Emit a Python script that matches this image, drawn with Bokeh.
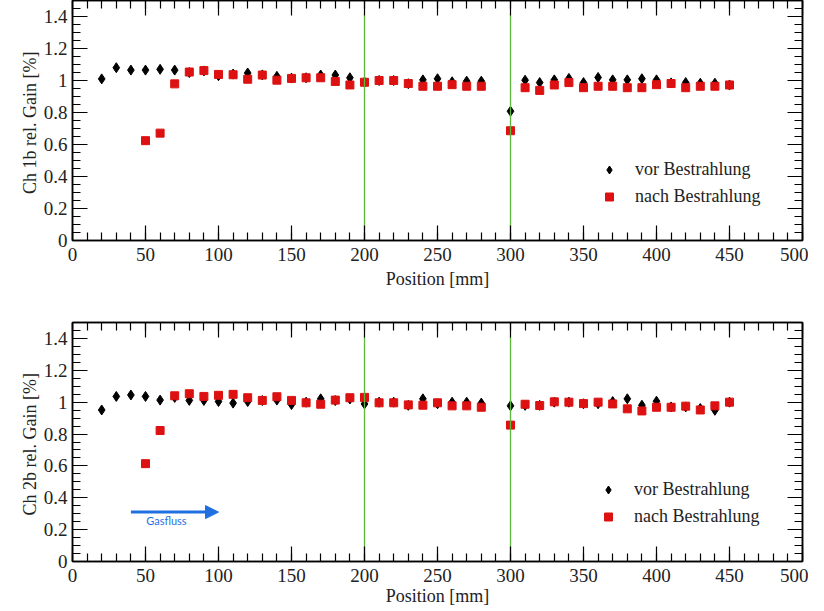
import numpy as np
from bokeh.plotting import figure
from bokeh.layouts import column
from bokeh.models import (Range1d, FixedTicker, LinearAxis, Legend, LegendItem,
                          Arrow, NormalHead, Label, CustomJSTickFormatter)
from bokeh.embed import file_html
from bokeh.resources import INLINE

# ---------------- data ----------------
pos_vor = [20, 30, 40, 50, 60, 70, 80, 90, 100, 110, 120, 130, 140, 150, 160, 170, 180, 190,
           200, 210, 220, 230, 240, 250, 260, 270, 280, 300, 310, 320, 330, 340, 350, 360,
           370, 380, 390, 400, 410, 420, 430, 440, 450]
pos_nach = [50, 60, 70, 80, 90, 100, 110, 120, 130, 140, 150, 160, 170, 180, 190,
            200, 210, 220, 230, 240, 250, 260, 270, 280, 300, 310, 320, 330, 340, 350, 360,
            370, 380, 390, 400, 410, 420, 430, 440, 450]

ch1_vor = [1.01, 1.08, 1.065, 1.065, 1.07, 1.065, 1.05, 1.06, 1.03, 1.04, 1.047, 1.035, 1.026,
           1.015, 1.017, 1.034, 1.034, 1.017, 0.99, 1.0, 1.0, 0.98, 1.004, 1.011, 0.992, 0.996,
           0.996, 0.808, 1.002, 0.987, 1.004, 1.013, 0.987, 1.019, 1.004, 1.004, 1.011, 1.004,
           0.985, 0.987, 0.983, 0.983, 0.972]
ch1_nach = [0.624, 0.671, 0.979, 1.053, 1.062, 1.038, 1.036, 1.008, 1.034, 1.002, 1.013, 1.017,
            1.017, 0.994, 0.972, 0.989, 1.0, 1.0, 0.981, 0.964, 0.964, 0.974, 0.964, 0.964,
            0.686, 0.955, 0.938, 0.972, 0.987, 0.955, 0.964, 0.964, 0.955, 0.955, 0.974, 0.981,
            0.955, 0.964, 0.964, 0.972]

ch2_vor = [0.951, 1.036, 1.045, 1.036, 1.013, 1.03, 1.011, 1.011, 1.004, 0.994, 1.004, 1.01,
           1.013, 0.985, 1.0, 1.021, 1.01, 1.02, 0.989, 1.0, 1.0, 0.98, 1.021, 0.99, 1.0, 1.0,
           0.994, 0.977, 0.98, 0.98, 1.0, 1.0, 0.99, 0.99, 1.004, 1.021, 0.981, 1.006, 0.97,
           0.97, 0.96, 0.949, 1.0]
ch2_nach = [0.614, 0.822, 1.04, 1.053, 1.036, 1.043, 1.049, 1.028, 1.011, 1.034, 1.011, 0.996,
            0.987, 1.013, 1.028, 1.03, 0.996, 0.996, 0.983, 0.981, 0.996, 0.977, 0.977, 0.968,
            0.856, 0.987, 0.979, 1.002, 1.0, 0.991, 1.0, 0.989, 0.958, 0.945, 0.968, 0.968,
            0.975, 0.951, 0.977, 1.0]

boundaries = [200, 300]
boundary_top = 1.41
x_major = [0, 50, 100, 150, 200, 250, 300, 350, 400, 450, 500]
y_major = [0, 0.2, 0.4, 0.6, 0.8, 1.0, 1.2, 1.4]
gas_arrow_x = [40, 100]
gas_arrow_y = 0.31
gas_label_x = 50.5
gas_label_y = 0.255

FONT = "Liberation Serif"
RED = "#dd1111"
GREEN = "#5cb83a"
BLUE = "#1f6fe0"


def style_axis(ax, labels=True):
    ax.axis_line_color = "black"
    ax.axis_line_width = 1.5
    ax.major_tick_in = 15
    ax.major_tick_out = 0
    ax.minor_tick_in = 8
    ax.minor_tick_out = 0
    ax.major_tick_line_color = "black"
    ax.minor_tick_line_color = "black"
    ax.major_tick_line_width = 1.2
    ax.minor_tick_line_width = 1.2
    if labels:
        ax.major_label_text_font = FONT
        ax.major_label_text_font_size = "19px"
        ax.major_label_text_color = "#222222"
        ax.axis_label_text_font = FONT
        ax.axis_label_text_font_size = "18px"
        ax.axis_label_text_font_style = "normal"
        ax.axis_label_text_color = "#222222"
    else:
        ax.major_label_text_color = None
        ax.major_label_text_font_size = "0px"
        ax.major_label_standoff = 0


def make_panel(vor_y, nach_y, ylabel, b_top, fh, lab_standoff, legend_loc, arrow):
    p = figure(frame_width=730, frame_height=fh,
               x_range=Range1d(0, 500), y_range=Range1d(0, 1.5),
               output_backend="svg", toolbar_location=None,
               min_border_left=72, min_border_right=6,
               min_border_top=b_top, min_border_bottom=20,
               x_axis_label="Position [mm]", y_axis_label=ylabel)
    p.grid.visible = False
    p.outline_line_color = "black"
    p.outline_line_width = 1.5
    p.background_fill_color = "white"
    p.border_fill_color = "white"

    xt = FixedTicker(ticks=x_major, minor_ticks=list(range(0, 501, 10)))
    yt = FixedTicker(ticks=y_major, minor_ticks=[round(v, 2) for v in np.arange(0, 1.5001, 0.05)])
    yfmt = CustomJSTickFormatter(code="return (Math.round(tick*10)/10).toString();")

    xa = p.xaxis[0]
    xa.ticker = xt
    style_axis(xa)
    xa.major_label_standoff = 7
    xa.axis_label_standoff = lab_standoff
    ya = p.yaxis[0]
    ya.ticker = yt
    ya.formatter = yfmt
    style_axis(ya)
    ya.major_label_standoff = 5
    ya.axis_label_standoff = 1

    top = LinearAxis(ticker=xt)
    style_axis(top, labels=False)
    p.add_layout(top, "above")
    right = LinearAxis(ticker=yt)
    style_axis(right, labels=False)
    p.add_layout(right, "right")

    r1 = p.scatter(pos_vor, vor_y, marker="diamond", size=10, color="black")
    r2 = p.scatter(pos_nach, nach_y, marker="square", size=8, color=RED)

    p.segment(x0=boundaries, y0=[0] * len(boundaries), x1=boundaries,
              y1=[boundary_top] * len(boundaries), line_color=GREEN, line_width=1.3)

    leg = Legend(items=[LegendItem(label="vor Bestrahlung", renderers=[r1]),
                        LegendItem(label="nach Bestrahlung", renderers=[r2])],
                 location=legend_loc, padding=0, margin=0, spacing=0,
                 glyph_width=20, glyph_height=27, label_height=27, label_standoff=16,
                 label_text_font=FONT, label_text_font_size="18px",
                 label_text_color="#222222",
                 border_line_color=None, background_fill_alpha=0)
    p.add_layout(leg)

    if arrow:
        p.add_layout(Arrow(end=NormalHead(size=13, fill_color=BLUE, line_color=BLUE),
                           x_start=gas_arrow_x[0], y_start=gas_arrow_y,
                           x_end=gas_arrow_x[1], y_end=gas_arrow_y,
                           line_color=BLUE, line_width=3))
        p.add_layout(Label(x=gas_label_x, y=gas_label_y, text="Gasfluss",
                           text_font="Lato", text_font_size="11px",
                           text_color=BLUE, text_baseline="middle"))
    return p


p1 = make_panel(ch1_vor, ch1_nach, "Ch 1b  rel. Gain [%]", 0, 240, 5, (527, 30), False)
p2 = make_panel(ch2_vor, ch2_nach, "Ch 2b  rel. Gain [%]", 31, 239, 1, (526, 31), True)

layout = column(p1, p2, spacing=0)
open("out.html", "w").write(file_html(layout, INLINE))
